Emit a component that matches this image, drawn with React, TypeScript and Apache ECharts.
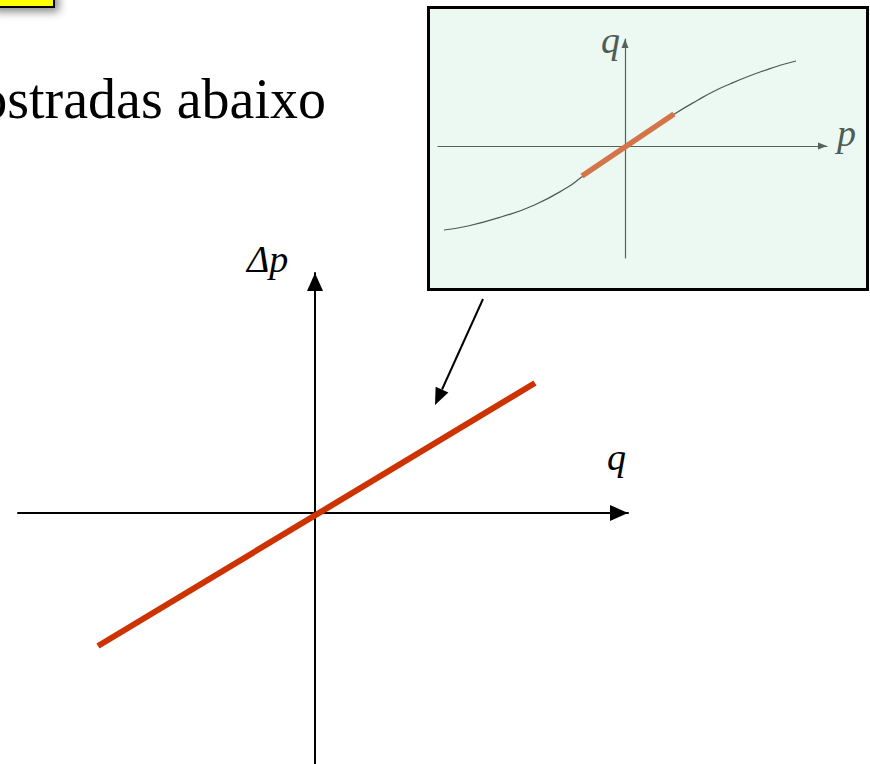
import React, { useEffect, useRef } from "react";
import * as echarts from "echarts";

// Main chart: Δp versus q (linearised relation)
const mainQ: number[] = [-2.17, 2.2];
const mainDeltaP: number[] = [-1.33, 1.3];

// Inset: q versus p (saturating curve)
const insetP: number[] = [-1.81, -1.57, -1.24, -0.905, -0.57, -0.44, 0, 0.495, 0.73, 0.895, 1.06, 1.23, 1.395, 1.56, 1.71];
const insetQ: number[] = [-0.84, -0.8, -0.71, -0.59, -0.41, -0.315, 0, 0.32, 0.46, 0.55, 0.625, 0.695, 0.755, 0.81, 0.85];
// Highlighted linear part of the inset curve
const segP: number[] = [-0.43, 0.49];
const segQ: number[] = [-0.3, 0.32];

const SERIF = "'Times New Roman', 'Liberation Serif', 'DejaVu Serif', serif";

// y of the text centre for a wanted baseline (Liberation Serif metrics)
const mid = (baseline: number, fs: number) => baseline - 0.3375 * fs;

export default function App() {
  const ref = useRef<HTMLDivElement>(null);

  useEffect(() => {
    if (!ref.current) return;
    const chart = echarts.init(ref.current, undefined, { renderer: "svg" });

    const hiddenAxisBits = {
      axisTick: { show: false },
      axisLabel: { show: false },
      splitLine: { show: false },
    };

    // pointer arrow geometry (annotation)
    const from = [483, 299];
    const tip = [435, 405];
    const dx = tip[0] - from[0];
    const dy = tip[1] - from[1];
    const len = Math.sqrt(dx * dx + dy * dy);
    const ux = dx / len;
    const uy = dy / len;
    const headLen = 17;
    const headHalf = 7;
    const base = [tip[0] - ux * headLen, tip[1] - uy * headLen];
    const px = -uy;
    const py = ux;

    chart.setOption({
      animation: false,
      backgroundColor: "#ffffff",
      grid: [
        { left: 18, top: 273, width: 610, height: 491, containLabel: false },
        { left: 438, top: 39, width: 389, height: 219, containLabel: false },
      ],
      xAxis: [
        {
          type: "value",
          gridIndex: 0,
          min: -2.97,
          max: 3.13,
          axisLine: {
            show: true,
            onZero: true,
            lineStyle: { color: "#000000", width: 2 },
            symbol: ["none", "triangle"],
            symbolSize: [16, 18],
            symbolOffset: [0, -9],
          },
          ...hiddenAxisBits,
        },
        {
          type: "value",
          gridIndex: 1,
          min: -1.87,
          max: 2.02,
          axisLine: {
            show: true,
            onZero: true,
            lineStyle: { color: "#56625c", width: 1.2 },
            symbol: ["none", "triangle"],
            symbolSize: [7, 9],
            symbolOffset: [0, -4.5],
          },
          ...hiddenAxisBits,
        },
      ],
      yAxis: [
        {
          type: "value",
          gridIndex: 0,
          min: -2.51,
          max: 2.4,
          axisLine: {
            show: true,
            onZero: true,
            lineStyle: { color: "#000000", width: 2 },
            symbol: ["none", "triangle"],
            symbolSize: [16, 18],
            symbolOffset: [0, -9],
          },
          ...hiddenAxisBits,
        },
        {
          type: "value",
          gridIndex: 1,
          min: -1.12,
          max: 1.07,
          axisLine: {
            show: true,
            onZero: true,
            lineStyle: { color: "#56625c", width: 1.2 },
            symbol: ["none", "triangle"],
            symbolSize: [7, 9],
            symbolOffset: [0, -4.5],
          },
          ...hiddenAxisBits,
        },
      ],
      series: [
        {
          type: "line",
          xAxisIndex: 0,
          yAxisIndex: 0,
          data: mainQ.map((q, i) => [q, mainDeltaP[i]]),
          symbol: "none",
          lineStyle: { color: "#cc3300", width: 6, cap: "butt" },
          z: 5,
        },
        {
          type: "line",
          xAxisIndex: 1,
          yAxisIndex: 1,
          data: insetP.map((p, i) => [p, insetQ[i]]),
          symbol: "none",
          smooth: 0.5,
          lineStyle: { color: "#4d5a52", width: 1.2 },
          z: 3,
        },
        {
          type: "line",
          xAxisIndex: 1,
          yAxisIndex: 1,
          data: segP.map((p, i) => [p, segQ[i]]),
          symbol: "none",
          lineStyle: { color: "#d4744a", width: 5.5, cap: "butt" },
          z: 4,
        },
      ],
      graphic: [
        {
          type: "rect",
          z: -1,
          shape: { x: -10, y: -10, width: 64, height: 17 },
          style: {
            fill: "#ffff00",
            stroke: "#000000",
            lineWidth: 2,
            shadowBlur: 8,
            shadowColor: "rgba(0,0,0,0.45)",
            shadowOffsetX: 4,
            shadowOffsetY: 4,
          },
        },
        {
          type: "text",
          x: 326,
          y: mid(118, 56),
          style: {
            text: "ostradas abaixo",
            font: `56px ${SERIF}`,
            fill: "#000000",
            textAlign: "right",
            textVerticalAlign: "middle",
          },
        },
        {
          type: "rect",
          z: -1,
          shape: { x: 428.5, y: 7.5, width: 439, height: 282 },
          style: { fill: "#ecf8f2", stroke: "#000000", lineWidth: 3 },
        },
        {
          type: "text",
          x: 601,
          y: mid(53, 38),
          style: {
            text: "q",
            font: `italic 38px ${SERIF}`,
            fill: "#4f5b55",
            textVerticalAlign: "middle",
          },
        },
        {
          type: "text",
          x: 837,
          y: mid(146, 38),
          style: {
            text: "p",
            font: `italic 38px ${SERIF}`,
            fill: "#4f5b55",
            textVerticalAlign: "middle",
          },
        },
        {
          type: "text",
          x: 247,
          y: mid(272, 38),
          style: {
            text: "Δp",
            font: `italic 38px ${SERIF}`,
            fill: "#000000",
            textVerticalAlign: "middle",
          },
        },
        {
          type: "text",
          x: 607,
          y: mid(470, 38),
          style: {
            text: "q",
            font: `italic 38px ${SERIF}`,
            fill: "#000000",
            textVerticalAlign: "middle",
          },
        },
        {
          type: "line",
          shape: { x1: from[0], y1: from[1], x2: base[0], y2: base[1] },
          style: { stroke: "#000000", lineWidth: 2 },
        },
        {
          type: "polygon",
          shape: {
            points: [
              [tip[0], tip[1]],
              [base[0] + px * headHalf, base[1] + py * headHalf],
              [base[0] - px * headHalf, base[1] - py * headHalf],
            ],
          },
          style: { fill: "#000000" },
        },
      ],
    });

    return () => {
      chart.dispose();
    };
  }, []);

  return (
    <div
      ref={ref}
      style={{ position: "fixed", left: 0, top: 0, width: 870, height: 764 }}
    />
  );
}
